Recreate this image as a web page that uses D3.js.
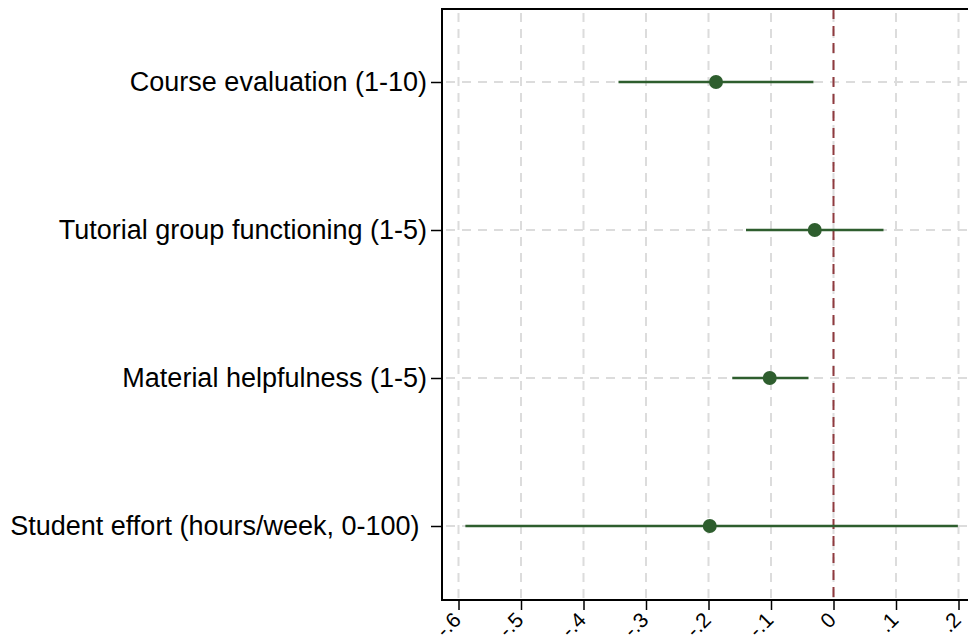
<!DOCTYPE html>
<html>
<head>
<meta charset="utf-8">
<script src="https://cdn.jsdelivr.net/npm/d3@7"></script>
<style>
  html, body { margin: 0; padding: 0; background: #fff; }
  svg { display: block; }
  .ylab text { white-space: pre; }
</style>
</head>
<body>
<svg id="chart" width="968" height="643"></svg>
<script>
const categories = [
  "Course evaluation (1-10)",
  "Tutorial group functioning (1-5)",
  "Material helpfulness (1-5)",
  "Student effort (hours/week, 0-100) "
];
const estimates = [-0.188, -0.030, -0.102, -0.198];
const ciLower   = [-0.344, -0.140, -0.162, -0.589];
const ciUpper   = [-0.032, 0.080, -0.040, 0.199];
const xTicks = [-0.6, -0.5, -0.4, -0.3, -0.2, -0.1, 0, 0.1, 0.2];
const xTickLabels = ["-.6", "-.5", "-.4", "-.3", "-.2", "-.1", "0", ".1", ".2"];
const refLine = 0;

const svg = d3.select("#chart");
const pL = 442, pR = 968, pT = 9, pB = 600;

const x = d3.scaleLinear().domain([-0.6, 0.2]).range([458.5, 958.5]);
const y = d3.scalePoint().domain(categories).range([82, 526]);

const green = "#2e5e2e";
const grid = "#dcdcdc";

// vertical gridlines
svg.append("g").selectAll("line").data(xTicks).join("line")
  .attr("x1", d => x(d)).attr("x2", d => x(d))
  .attr("y1", pT).attr("y2", pB)
  .attr("stroke", grid).attr("stroke-width", 2)
  .attr("stroke-dasharray", "9,7").attr("stroke-dashoffset", -4);

// horizontal gridlines
svg.append("g").selectAll("line").data(categories).join("line")
  .attr("x1", pL).attr("x2", pR)
  .attr("y1", d => y(d)).attr("y2", d => y(d))
  .attr("stroke", grid).attr("stroke-width", 2)
  .attr("stroke-dasharray", "9,7").attr("stroke-dashoffset", -4);

// reference line
svg.append("line")
  .attr("x1", x(refLine)).attr("x2", x(refLine))
  .attr("y1", pT).attr("y2", pB)
  .attr("stroke", "#8f3a3f").attr("stroke-width", 2)
  .attr("stroke-dasharray", "10,7");

// CI lines
svg.append("g").selectAll("line").data(categories).join("line")
  .attr("x1", (d, i) => x(ciLower[i])).attr("x2", (d, i) => x(ciUpper[i]))
  .attr("y1", d => y(d)).attr("y2", d => y(d))
  .attr("stroke", green).attr("stroke-width", 2.5);

// points
svg.append("g").selectAll("circle").data(categories).join("circle")
  .attr("cx", (d, i) => x(estimates[i])).attr("cy", d => y(d))
  .attr("r", 7).attr("fill", green);

// frame: top
svg.append("line").attr("x1", pL).attr("x2", pR).attr("y1", pT).attr("y2", pT)
  .attr("stroke", "#000").attr("stroke-width", 2);

// x axis
const xAxis = d3.axisBottom(x).tickValues(xTicks)
  .tickFormat((d, i) => xTickLabels[i]).tickSize(10).tickPadding(4);
const gx = svg.append("g").attr("transform", `translate(0,${pB})`).call(xAxis);
gx.select(".domain").remove();
gx.selectAll(".tick line").attr("stroke", "#000").attr("stroke-width", 1.5);
gx.selectAll(".tick text")
  .attr("font-family", "Liberation Sans, Arial, sans-serif")
  .attr("font-size", 21).attr("fill", "#000")
  .attr("text-anchor", "end")
  .attr("y", 0).attr("dy", "0.35em")
  .attr("transform", "translate(-2,16) rotate(-45)");
svg.append("line").attr("x1", pL).attr("x2", pR).attr("y1", pB).attr("y2", pB)
  .attr("stroke", "#000").attr("stroke-width", 2);

// y axis
const yAxis = d3.axisLeft(y).tickSize(11).tickPadding(4);
const gy = svg.append("g").attr("class", "ylab").attr("transform", `translate(${pL},0)`).call(yAxis);
gy.select(".domain").remove();
gy.selectAll(".tick line").attr("stroke", "#000").attr("stroke-width", 1.5);
gy.selectAll(".tick text")
  .attr("font-family", "Liberation Sans, Arial, sans-serif")
  .attr("font-size", 27).attr("fill", "#000");
svg.append("line").attr("x1", pL).attr("x2", pL).attr("y1", pT - 1).attr("y2", pB + 1)
  .attr("stroke", "#000").attr("stroke-width", 2);
</script>
</body>
</html>
